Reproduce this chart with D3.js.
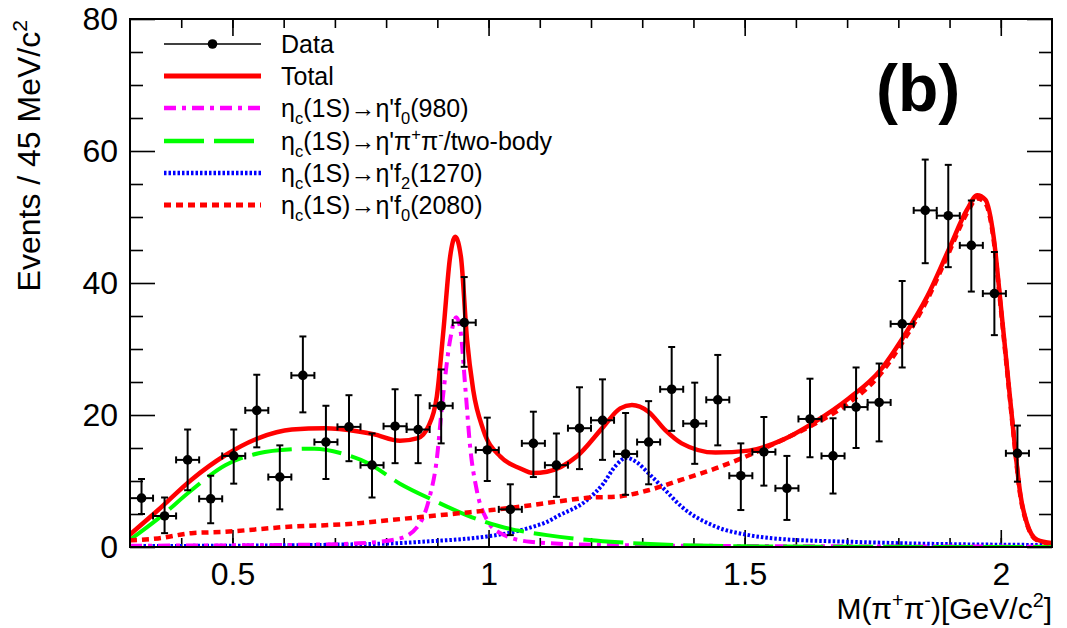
<!DOCTYPE html>
<html>
<head>
<meta charset="utf-8">
<script src="https://cdn.jsdelivr.net/npm/d3@7"></script>
<style>
  body { margin: 0; background: #fff; }
  svg text { font-family: "Liberation Sans", Arial, Helvetica, sans-serif; fill: #000; }
</style>
</head>
<body>
<script>
// General constants
const WIDTH = 1067;
const HEIGHT = 628;

// Data points: bin centres (GeV/c^2), counts and asymmetric error bar ends
const binCenters = [0.3225, 0.3675, 0.4125, 0.4575, 0.5025, 0.5475, 0.5925, 0.6375, 0.6825, 0.7275,
                    0.7725, 0.8175, 0.8625, 0.9075, 0.9525, 0.9975, 1.0425, 1.0875, 1.1325, 1.1775,
                    1.2225, 1.2675, 1.3125, 1.3575, 1.4025, 1.4475, 1.4925, 1.5375, 1.5825, 1.6275,
                    1.6725, 1.7175, 1.7625, 1.8075, 1.8525, 1.8975, 1.9425, 1.9875, 2.0325];
const counts    = [7.4, 4.7, 13.2, 7.3, 13.8, 20.7, 10.6, 26.0, 15.9, 18.2,
                   12.4, 18.3, 17.8, 21.4, 34.0, 14.7, 5.7, 15.7, 12.4, 18.0,
                   19.2, 14.1, 15.9, 23.9, 18.7, 22.3, 10.8, 14.4, 8.9, 19.4,
                   13.8, 21.2, 21.9, 33.8, 51.0, 50.2, 45.7, 38.4, 14.2];
const errTop    = [10.3, 7.5, 17.8, 10.8, 17.8, 26.1, 15.4, 31.9, 21.4, 23.0,
                   17.2, 23.9, 23.0, 26.9, 40.9, 19.6, 9.5, 20.5, 17.2, 24.2,
                   25.4, 20.3, 22.1, 30.3, 24.9, 29.1, 15.7, 19.7, 13.8, 25.5,
                   19.5, 27.2, 27.8, 40.3, 58.7, 57.9, 52.5, 44.7, 18.4];
const errBottom = [5.0, 2.1, 8.6, 3.6, 9.6, 15.1, 5.7, 20.4, 10.3, 13.0,
                   7.5, 12.7, 12.7, 15.7, 27.3, 10.0, 1.8, 10.6, 7.6, 11.8,
                   13.2, 7.9, 9.5, 17.6, 12.6, 15.4, 5.6, 9.3, 4.1, 13.6,
                   8.1, 15.0, 16.0, 27.2, 43.0, 42.4, 38.7, 32.1, 9.9];
const binHalfWidth = 0.0225;

// Fit curves
const totalX = [0.3, 0.355, 0.42, 0.486, 0.551, 0.616, 0.681, 0.746, 0.775, 0.827, 0.862, 0.882, 0.899, 0.912,
                0.925, 0.935, 0.946, 0.958, 0.970, 0.990, 1.023, 1.062, 1.087, 1.114, 1.172, 1.224, 1.257,
                1.28, 1.312, 1.345, 1.377, 1.443, 1.508, 1.573, 1.638, 1.703, 1.765, 1.808, 1.856, 1.898,
                1.934, 1.954, 1.970, 1.986, 1.999, 2.012, 2.025, 2.038, 2.051, 2.071, 2.1];
const totalY = [1.9, 5.6, 10.2, 13.9, 16.5, 17.8, 18.0, 17.5, 17.1, 16.1, 16.5, 18.2, 22.8, 32.9,
                44.0, 47.0, 44.0, 31.4, 23.8, 17.7, 13.7, 11.9, 11.2, 11.4, 13.7, 18.2, 21.0,
                21.5, 20.5, 17.7, 15.7, 14.3, 14.6, 16.2, 19.0, 22.5, 26.8, 31.6, 37.9, 45.0,
                51.1, 53.3, 52.6, 47.0, 37.4, 27.3, 17.2, 8.1, 3.6, 1.1, 0.6];

const f980X = [0.3, 0.5, 0.65, 0.746, 0.827, 0.866, 0.885, 0.898, 0.911, 0.925, 0.937, 0.945, 0.955,
               0.964, 0.977, 0.997, 1.023, 1.081, 1.2, 1.5, 2.1];
const f980Y = [0.2, 0.25, 0.35, 0.55, 1.3, 3.6, 7.6, 12.7, 22.8, 31.4, 34.8, 32.9, 23.8,
               15.2, 8.6, 4.1, 2.1, 0.8, 0.35, 0.15, 0.05];

const twoBodyX = [0.3, 0.355, 0.42, 0.486, 0.551, 0.616, 0.66, 0.713, 0.765, 0.827, 0.892, 0.958, 1.023,
                  1.114, 1.238, 1.35, 1.5, 1.7, 2.1];
const twoBodyY = [1.1, 4.3, 8.6, 12.4, 14.2, 14.8, 14.9, 14.2, 12.7, 9.6, 7.1, 4.8, 3.1,
                  1.8, 0.8, 0.35, 0.1, 0.03, 0.0];

const f1270X = [0.3, 0.5, 0.7, 0.827, 0.892, 0.95, 0.997, 1.05, 1.088, 1.114, 1.133, 1.192, 1.224, 1.247,
                1.269, 1.29, 1.312, 1.345, 1.377, 1.443, 1.508, 1.573, 1.703, 1.85, 2.1];
const f1270Y = [0.15, 0.2, 0.35, 0.6, 0.9, 1.2, 1.6, 2.3, 3.1, 3.8, 4.6, 7.1, 9.6, 12.2,
                13.5, 12.8, 11.2, 8.6, 6.1, 3.1, 1.8, 1.2, 0.8, 0.5, 0.3];

const f2080X = [0.3, 0.355, 0.42, 0.486, 0.551, 0.616, 0.681, 0.746, 0.811, 0.876, 0.941, 1.006, 1.071,
                1.136, 1.201, 1.247, 1.312, 1.377, 1.443, 1.508, 1.573, 1.638, 1.703, 1.765, 1.808,
                1.856, 1.898, 1.934, 1.954, 1.970, 1.986, 1.999, 2.012, 2.025, 2.038, 2.051, 2.071, 2.1];
const f2080Y = [1.0, 1.3, 2.1, 2.3, 2.7, 3.1, 3.3, 3.6, 4.1, 4.6, 5.1, 5.6, 6.2,
                6.9, 7.5, 7.6, 8.6, 10.2, 11.9, 13.9, 16.2, 18.7, 21.8, 26.2, 31.0,
                37.4, 44.5, 50.6, 52.8, 52.1, 46.6, 37.0, 27.0, 17.0, 7.9, 3.5, 1.0, 0.5];

// Axis ticks
const xMajorTicks = [0.5, 1, 1.5, 2];
const xMinorTicks = [0.4, 0.5, 0.6, 0.7, 0.8, 0.9, 1.0, 1.1, 1.2, 1.3, 1.4, 1.5, 1.6, 1.7, 1.8, 1.9, 2.0];
const yMajorTicks = [0, 20, 40, 60, 80];
const yMinorTicks = [5, 10, 15, 25, 30, 35, 45, 50, 55, 65, 70, 75];

/**
 * Plot frame
 */
const frame = {left: 130, right: 1052, top: 19, bottom: 547};

const x = d3.scaleLinear().domain([0.3, 2.1]).range([frame.left, frame.right]);
const y = d3.scaleLinear().domain([0, 80]).range([frame.bottom, frame.top]);

const svg = d3.select("body").append("svg")
              .attr("width", WIDTH)
              .attr("height", HEIGHT);

svg.append("clipPath").attr("id", "plotclip")
   .append("rect")
   .attr("x", frame.left).attr("y", frame.top)
   .attr("width", frame.right - frame.left)
   .attr("height", frame.bottom - frame.top);

// Axes: ROOT style, ticks inside on all four sides
function styleAxis(g) {
    g.select(".domain").remove();
    g.selectAll(".tick line").attr("stroke", "#000").attr("stroke-width", 1.6);
}

svg.append("g").attr("transform", `translate(0,${frame.bottom})`)
   .call(d3.axisBottom(x).tickValues(xMinorTicks).tickSizeInner(-9).tickSizeOuter(0).tickFormat(""))
   .call(styleAxis);
svg.append("g").attr("transform", `translate(0,${frame.bottom})`)
   .call(d3.axisBottom(x).tickValues(xMajorTicks).tickSizeInner(-17).tickSizeOuter(0)
           .tickPadding(15).tickFormat(d => String(d)))
   .call(styleAxis)
   .selectAll("text").attr("font-size", 32);
svg.append("g").attr("transform", `translate(0,${frame.top})`)
   .call(d3.axisTop(x).tickValues(xMinorTicks).tickSizeInner(-9).tickSizeOuter(0).tickFormat(""))
   .call(styleAxis);
svg.append("g").attr("transform", `translate(0,${frame.top})`)
   .call(d3.axisTop(x).tickValues(xMajorTicks).tickSizeInner(-17).tickSizeOuter(0).tickFormat(""))
   .call(styleAxis);

svg.append("g").attr("transform", `translate(${frame.left},0)`)
   .call(d3.axisLeft(y).tickValues(yMinorTicks).tickSizeInner(-13).tickSizeOuter(0).tickFormat(""))
   .call(styleAxis);
svg.append("g").attr("transform", `translate(${frame.left},0)`)
   .call(d3.axisLeft(y).tickValues(yMajorTicks).tickSizeInner(-25).tickSizeOuter(0)
           .tickPadding(12).tickFormat(d => String(d)))
   .call(styleAxis)
   .selectAll("text").attr("font-size", 32);
svg.append("g").attr("transform", `translate(${frame.right},0)`)
   .call(d3.axisRight(y).tickValues(yMinorTicks).tickSizeInner(-13).tickSizeOuter(0).tickFormat(""))
   .call(styleAxis);
svg.append("g").attr("transform", `translate(${frame.right},0)`)
   .call(d3.axisRight(y).tickValues(yMajorTicks).tickSizeInner(-25).tickSizeOuter(0).tickFormat(""))
   .call(styleAxis);

/**
 * Curves
 */
const plot = svg.append("g").attr("clip-path", "url(#plotclip)");

function drawCurve(xs, ys, color, width, dash) {
    const pts = xs.map((d, i) => [d, ys[i]]);
    const line = d3.line()
                   .x(d => x(d[0]))
                   .y(d => y(d[1]))
                   .curve(d3.curveMonotoneX);
    plot.append("path")
        .attr("d", line(pts))
        .attr("fill", "none")
        .attr("stroke", color)
        .attr("stroke-width", width)
        .attr("stroke-dasharray", dash);
}

const styles = {
    total:   {color: "#ff0000", width: 4.5, dash: null},
    f980:    {color: "#ff00ff", width: 4,   dash: "12,6,4,6"},
    twoBody: {color: "#00ff00", width: 4,   dash: "40,10"},
    f1270:   {color: "#0000ff", width: 4,   dash: "2.5,2"},
    f2080:   {color: "#ff0000", width: 4.5, dash: "7,5"}
};

drawCurve(f1270X, f1270Y, styles.f1270.color, styles.f1270.width, styles.f1270.dash);
drawCurve(f980X, f980Y, styles.f980.color, styles.f980.width, styles.f980.dash);
drawCurve(twoBodyX, twoBodyY, styles.twoBody.color, styles.twoBody.width, styles.twoBody.dash);
drawCurve(f2080X, f2080Y, styles.f2080.color, styles.f2080.width, styles.f2080.dash);
drawCurve(totalX, totalY, styles.total.color, styles.total.width, styles.total.dash);

/**
 * Data points with error bars
 */
const cap = 3.5;
const pointsG = svg.append("g");
binCenters.forEach((c, i) => {
    const px = x(c), py = y(counts[i]);
    const x0 = x(c - binHalfWidth), x1 = x(c + binHalfWidth);
    const yt = y(errTop[i]), yb = y(errBottom[i]);
    const g = pointsG.append("g").attr("stroke", "#000").attr("stroke-width", 2);
    g.append("line").attr("x1", x0).attr("x2", x1).attr("y1", py).attr("y2", py);
    g.append("line").attr("x1", px).attr("x2", px).attr("y1", yt).attr("y2", yb);
    g.append("line").attr("x1", px - cap).attr("x2", px + cap).attr("y1", yt).attr("y2", yt);
    g.append("line").attr("x1", px - cap).attr("x2", px + cap).attr("y1", yb).attr("y2", yb);
    g.append("line").attr("x1", x0).attr("x2", x0).attr("y1", py - cap).attr("y2", py + cap);
    g.append("line").attr("x1", x1).attr("x2", x1).attr("y1", py - cap).attr("y2", py + cap);
    g.append("circle").attr("cx", px).attr("cy", py).attr("r", 4.8).attr("fill", "#000").attr("stroke", "none");
});

// Frame
svg.append("rect")
   .attr("x", frame.left).attr("y", frame.top)
   .attr("width", frame.right - frame.left)
   .attr("height", frame.bottom - frame.top)
   .attr("fill", "none").attr("stroke", "#000").attr("stroke-width", 2);

/**
 * Legend
 */
const legendRows = [
    {key: "data",    y: 44,  parts: [["Data"]]},
    {key: "total",   y: 76,  parts: [["Total"]]},
    {key: "f980",    y: 108, parts: [["η"], ["c", "sub"], ["(1S)→η'f"], ["0", "sub"], ["(980)"]]},
    {key: "twoBody", y: 141, parts: [["η"], ["c", "sub"], ["(1S)→η'π"], ["+", "sup"], ["π"], ["-", "sup"], ["/two-body"]]},
    {key: "f1270",   y: 173, parts: [["η"], ["c", "sub"], ["(1S)→η'f"], ["2", "sub"], ["(1270)"]]},
    {key: "f2080",   y: 205, parts: [["η"], ["c", "sub"], ["(1S)→η'f"], ["0", "sub"], ["(2080)"]]}
];
const legX0 = 164, legX1 = 261, legText = 281;

function addRichText(sel, parts, size) {
    let shift = 0;
    parts.forEach(p => {
        const t = sel.append("tspan").text(p[0]);
        let target = 0;
        if (p[1] === "sub") target = size * 0.28;
        if (p[1] === "sup") target = -size * 0.4;
        if (p[1]) t.attr("font-size", size * 0.66);
        t.attr("dy", target - shift);
        shift = target;
    });
}

const legend = svg.append("g");
legendRows.forEach(r => {
    if (r.key === "data") {
        legend.append("line").attr("x1", legX0).attr("x2", legX1).attr("y1", r.y).attr("y2", r.y)
              .attr("stroke", "#000").attr("stroke-width", 1.6);
        legend.append("circle").attr("cx", (legX0 + legX1) / 2).attr("cy", r.y).attr("r", 4.8).attr("fill", "#000");
    } else {
        const s = styles[r.key];
        legend.append("line").attr("x1", legX0).attr("x2", legX1).attr("y1", r.y).attr("y2", r.y)
              .attr("stroke", s.color).attr("stroke-width", s.width + 0.5)
              .attr("stroke-dasharray", s.dash);
    }
    const t = legend.append("text").attr("x", legText).attr("y", r.y + 9).attr("font-size", 25);
    addRichText(t, r.parts, 25);
});

// "(b)" label
svg.append("text").attr("x", 876).attr("y", 111)
   .attr("font-size", 66).attr("font-weight", "bold").text("(b)");

// Axis titles
const xTitle = svg.append("text").attr("x", frame.right).attr("y", 619)
                  .attr("text-anchor", "end").attr("font-size", 30);
addRichText(xTitle, [["M(π"], ["+", "sup"], ["π"], ["-", "sup"], [")[GeV/c"], ["2", "sup"], ["]"]], 30);

const yTitle = svg.append("text").attr("transform", "translate(40,20) rotate(-90)")
                  .attr("text-anchor", "end").attr("font-size", 32);
addRichText(yTitle, [["Events / 45 MeV/c"], ["2", "sup"]], 32);
</script>
</body>
</html>
